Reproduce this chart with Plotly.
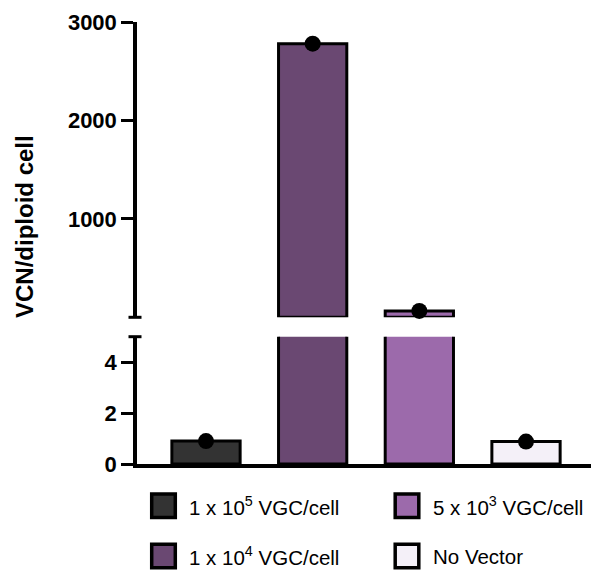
import plotly.graph_objects as go

# ---- data ----
categories = ["1 x 10<sup>5</sup> VGC/cell", "1 x 10<sup>4</sup> VGC/cell",
              "5 x 10<sup>3</sup> VGC/cell", "No Vector"]
vcn_values = [0.9, 2780, 65, 0.88]
bar_colors = ["#333333", "#6a4872", "#9c6aab", "#f4f0f8"]
lower_ticks = [0, 2, 4]
upper_ticks = [1000, 2000, 3000]
lower_max = 5
upper_max = 3000
y_title = "VCN/diploid cell"

W, H = 591, 570
L, R, T, B = 137, 0, 22, 106
pw, ph = W - L - R, H - T - B
spacing = 106.67
x_lo = -(206 - L) / spacing
x_hi = x_lo + pw / spacing

lower_top_px = 336.7
upper_bot_px = 317.3
zero_px = H - B
lower_dom = [0, (zero_px - lower_top_px) / ph]
upper_dom = [(zero_px - upper_bot_px) / ph, 1]

FONT = "Liberation Sans, Arial, sans-serif"
LW = 3.5

x_idx = list(range(len(categories)))

fig = go.Figure()

# lower panel bars (all), upper panel bars (only those above the break)
fig.add_trace(go.Bar(x=x_idx, y=vcn_values, marker=dict(color=bar_colors, line=dict(color="black", width=3)),
                     width=0.64, xaxis="x", yaxis="y", showlegend=False))
upper_vals = [v if v > lower_max else None for v in vcn_values]
fig.add_trace(go.Bar(x=x_idx, y=upper_vals, marker=dict(color=bar_colors, line=dict(color="black", width=3)),
                     width=0.64, xaxis="x", yaxis="y2", showlegend=False))

# dots
lower_pts = [v if v <= lower_max else None for v in vcn_values]
fig.add_trace(go.Scatter(x=x_idx, y=lower_pts, mode="markers", marker=dict(color="black", size=16),
                         xaxis="x", yaxis="y", showlegend=False, cliponaxis=False))
fig.add_trace(go.Scatter(x=x_idx, y=upper_vals, mode="markers", marker=dict(color="black", size=16),
                         xaxis="x", yaxis="y2", showlegend=False, cliponaxis=False))

axis_common = dict(showline=True, linecolor="black", linewidth=LW, ticks="outside", ticklen=12,
                   tickwidth=3, tickcolor="black", showgrid=False, zeroline=False,
                   tickfont=dict(family=FONT, size=22, color="black", weight="bold"))

shapes = []
# axis break caps
for yy in [lower_dom[1], upper_dom[0]]:
    shapes.append(dict(type="line", xref="paper", yref="paper", xsizemode="pixel", xanchor=0,
                       x0=-8.5, x1=4.5, y0=yy, y1=yy, line=dict(color="black", width=3)))

annotations = [dict(text=y_title, xref="paper", yref="paper", x=(24 - L) / pw, y=(zero_px - 227) / ph,
                    textangle=-90, showarrow=False, xanchor="center", yanchor="middle",
                    font=dict(family=FONT, size=24, color="black", weight="bold"))]

# custom legend (2 x 2)
legend_pos = [(163.5, 505.8), (163.5, 556), (407, 505.8), (407, 556)]
for i, (cx, cy) in enumerate(legend_pos):
    px = (cx - L) / pw
    py = (zero_px - cy) / ph
    shapes.append(dict(type="rect", xref="paper", yref="paper", xsizemode="pixel", ysizemode="pixel",
                       xanchor=px, yanchor=py, x0=-11.8, x1=11.8, y0=-11.8, y1=11.8,
                       fillcolor=bar_colors[i], line=dict(color="black", width=LW)))
    annotations.append(dict(text=categories[i], xref="paper", yref="paper", x=(cx + 23.5 - L) / pw, y=py,
                            showarrow=False, xanchor="left", yanchor="middle",
                            font=dict(family=FONT, size=20.5, color="black")))

fig.update_layout(
    width=W, height=H, margin=dict(l=L, r=R, t=T, b=B),
    paper_bgcolor="white", plot_bgcolor="white", barmode="overlay",
    xaxis=dict(range=[x_lo, x_hi], showline=True, linecolor="black", linewidth=LW, showticklabels=False,
               ticks="", showgrid=False, zeroline=False),
    yaxis=dict(domain=lower_dom, range=[0, lower_max], tickvals=lower_ticks, anchor="x", **axis_common),
    yaxis2=dict(domain=upper_dom, range=[0, upper_max], tickvals=upper_ticks, anchor="x", **axis_common),
    shapes=shapes, annotations=annotations, showlegend=False,
)

fig.write_html("out.html")
